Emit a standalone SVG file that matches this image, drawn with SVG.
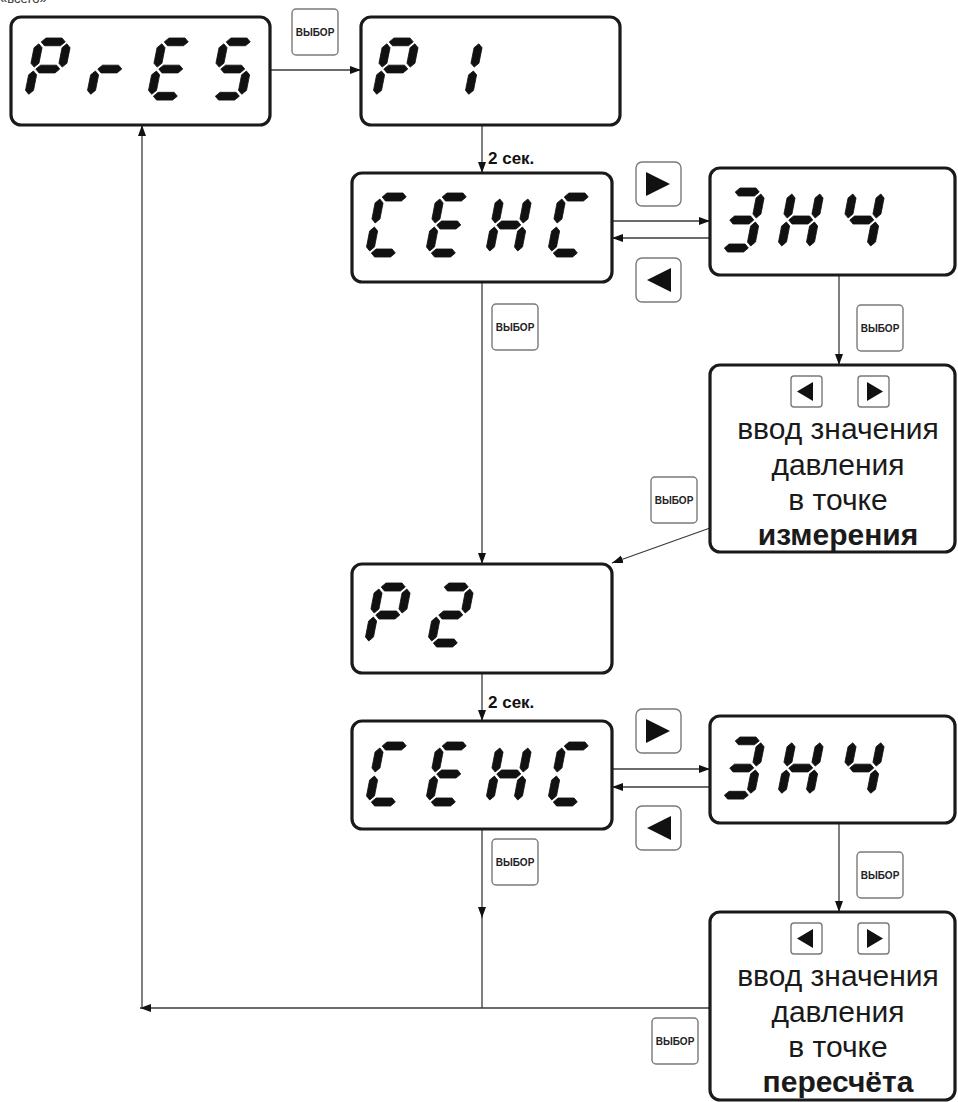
<svg xmlns="http://www.w3.org/2000/svg" xmlns:xlink="http://www.w3.org/1999/xlink" width="958" height="1102" viewBox="0 0 958 1102">
<style>
.disp{fill:#fff;stroke:#1a1a1a;stroke-width:3.2}
.btn{fill:#fff;stroke:#7a7a7a;stroke-width:1.4}
.btxt{font-family:"Liberation Sans",Arial,sans-serif;font-weight:bold;font-size:10px;fill:#222;text-anchor:middle}
.tri{fill:#111}
.seg{fill:#111;stroke:#111;stroke-width:0.8;stroke-linejoin:round}
.con{fill:none;stroke:#3a3a3a;stroke-width:1.3}
.lbl{font-family:"Liberation Sans",Arial,sans-serif;font-weight:bold;font-size:17px;fill:#111}
.big{font-family:"Liberation Sans",Arial,sans-serif;font-size:30px;fill:#1a1a1a;text-anchor:middle}
.bigb{font-family:"Liberation Sans",Arial,sans-serif;font-size:30px;font-weight:bold;fill:#1a1a1a;text-anchor:middle}
</style>
<defs>
<polygon id="sa" class="seg" points="6,4 10,0 26,0 30,4 26,8 10,8"/>
<polygon id="sg" class="seg" points="6,32 10,28 26,28 30,32 26,36 10,36"/>
<polygon id="sd" class="seg" points="6,60 10,56 26,56 30,60 26,64 10,64"/>
<polygon id="sf" class="seg" points="4,6 8,10 8,26 4,30 0,26 0,10"/>
<polygon id="se" class="seg" points="4,34 8,38 8,54 4,58 0,54 0,38"/>
<polygon id="sb" class="seg" points="32,6 36,10 36,26 32,30 28,26 28,10"/>
<polygon id="sc" class="seg" points="32,34 36,38 36,54 32,58 28,54 28,38"/>
<marker id="ah" markerWidth="12" markerHeight="10" refX="11" refY="5" orient="auto" markerUnits="userSpaceOnUse">
<path d="M0,1 L11,5 L0,9 Z" fill="#111"/>
</marker>
<g id="selbtn">
<rect class="btn" x="0" y="0" width="46" height="46" rx="4"/>
<text class="btxt" x="23" y="27">ВЫБОР</text>
</g>
<g id="rbtn">
<rect class="btn" x="0" y="0" width="45" height="44" rx="6"/>
<polygon class="tri" points="10,10 34,22 10,34"/>
</g>
<g id="lbtn">
<rect class="btn" x="0" y="0" width="45" height="44" rx="6"/>
<polygon class="tri" points="35,10 11,22 35,34"/>
</g>
<g id="srbtn">
<rect class="btn" x="0" y="0" width="31" height="31" rx="3"/>
<polygon class="tri" points="9,6 25,15.5 9,25"/>
</g>
<g id="slbtn">
<rect class="btn" x="0" y="0" width="31" height="31" rx="3"/>
<polygon class="tri" points="22,6 6,15.5 22,25"/>
</g>
</defs>
<rect x="0" y="0" width="958" height="1102" fill="#fff"/>
<text x="0" y="3" font-family="Liberation Sans, Arial, sans-serif" font-size="13" fill="#333">«всего»</text>

<g id="connectors">
<line class="con" x1="270" y1="70" x2="361" y2="70" marker-end="url(#ah)"/>
<line class="con" x1="482" y1="125" x2="482" y2="173" marker-end="url(#ah)"/>
<line class="con" x1="612" y1="221" x2="710" y2="221" marker-end="url(#ah)"/>
<line class="con" x1="710" y1="238" x2="612" y2="238" marker-end="url(#ah)"/>
<line class="con" x1="839" y1="275" x2="839" y2="365" marker-end="url(#ah)"/>
<line class="con" x1="710" y1="528" x2="612" y2="563" marker-end="url(#ah)"/>
<line class="con" x1="482" y1="282" x2="482" y2="564" marker-end="url(#ah)"/>
<line class="con" x1="482" y1="673" x2="482" y2="721" marker-end="url(#ah)"/>
<line class="con" x1="612" y1="769" x2="710" y2="769" marker-end="url(#ah)"/>
<line class="con" x1="710" y1="787" x2="612" y2="787" marker-end="url(#ah)"/>
<line class="con" x1="839" y1="823" x2="839" y2="912" marker-end="url(#ah)"/>
<line class="con" x1="482" y1="829" x2="482" y2="918" marker-end="url(#ah)"/>
<line class="con" x1="482" y1="916" x2="482" y2="1008"/>
<line class="con" x1="710" y1="1008" x2="140" y2="1008" marker-end="url(#ah)"/>
<line class="con" x1="142" y1="1008" x2="142" y2="125" marker-end="url(#ah)"/>
</g>

<g id="labels">
<text class="lbl" x="488" y="164">2 сек.</text>
<text class="lbl" x="488" y="708">2 сек.</text>
<use xlink:href="#selbtn" x="292" y="9"/>
<use xlink:href="#rbtn" x="636" y="162"/>
<use xlink:href="#lbtn" x="636" y="258"/>
<use xlink:href="#selbtn" x="492" y="304"/>
<use xlink:href="#selbtn" x="857" y="305"/>
<use xlink:href="#selbtn" x="651" y="477"/>
<use xlink:href="#rbtn" x="636" y="709"/>
<use xlink:href="#lbtn" x="636" y="806"/>
<use xlink:href="#selbtn" x="492" y="839"/>
<use xlink:href="#selbtn" x="857" y="852"/>
<use xlink:href="#selbtn" x="652" y="1018"/>
</g>

<g id="node-pres">
<rect class="disp" x="11" y="17" width="259" height="108" rx="10"/>
<g transform="translate(36,38) scale(1,0.97) skewX(-11)"><use xlink:href="#sa"/><use xlink:href="#sb"/><use xlink:href="#sf"/><use xlink:href="#se"/><use xlink:href="#sg"/></g>
<g transform="translate(98,38) scale(1,0.97) skewX(-11)"><use xlink:href="#se"/><use xlink:href="#sg"/></g>
<g transform="translate(159,38) scale(1,0.97) skewX(-11)"><use xlink:href="#sa"/><use xlink:href="#sf"/><use xlink:href="#sg"/><use xlink:href="#se"/><use xlink:href="#sd"/></g>
<g transform="translate(221,38) scale(1,0.97) skewX(-11)"><use xlink:href="#sa"/><use xlink:href="#sf"/><use xlink:href="#sg"/><use xlink:href="#sc"/><use xlink:href="#sd"/></g>
</g>

<g id="node-p1">
<rect class="disp" x="361" y="17" width="259" height="108" rx="10"/>
<g transform="translate(384,38) scale(1,0.97) skewX(-11)"><use xlink:href="#sa"/><use xlink:href="#sb"/><use xlink:href="#sf"/><use xlink:href="#se"/><use xlink:href="#sg"/></g>
<g transform="translate(448,38) scale(1,0.97) skewX(-11)"><use xlink:href="#sb"/><use xlink:href="#sc"/></g>
</g>

<g id="node-cehc1">
<rect class="disp" x="352" y="173" width="260" height="109" rx="10"/>
<g transform="translate(377,193) skewX(-11)"><use xlink:href="#sa"/><use xlink:href="#sf"/><use xlink:href="#se"/><use xlink:href="#sd"/></g>
<g transform="translate(437,193) skewX(-11)"><use xlink:href="#sa"/><use xlink:href="#sf"/><use xlink:href="#sg"/><use xlink:href="#se"/><use xlink:href="#sd"/></g>
<g transform="translate(497,193) skewX(-11)"><use xlink:href="#sb"/><use xlink:href="#sc"/><use xlink:href="#se"/><use xlink:href="#sf"/><use xlink:href="#sg"/></g>
<g transform="translate(559,193) skewX(-11)"><use xlink:href="#sa"/><use xlink:href="#sf"/><use xlink:href="#se"/><use xlink:href="#sd"/></g>
</g>

<g id="node-znch1">
<rect class="disp" x="710" y="168" width="245" height="107" rx="10"/>
<g transform="translate(730,188) skewX(-11)"><use xlink:href="#sa"/><use xlink:href="#sb"/><use xlink:href="#sg"/><use xlink:href="#sc"/><use xlink:href="#sd"/></g>
<g transform="translate(789,188) skewX(-11)"><use xlink:href="#sb"/><use xlink:href="#sc"/><use xlink:href="#se"/><use xlink:href="#sf"/><use xlink:href="#sg"/></g>
<g transform="translate(850,188) skewX(-11)"><use xlink:href="#sf"/><use xlink:href="#sg"/><use xlink:href="#sb"/><use xlink:href="#sc"/></g>
</g>

<g id="node-input1">
<rect class="disp" x="710" y="365" width="245" height="187" rx="10"/>
<use xlink:href="#slbtn" x="791" y="376"/>
<use xlink:href="#srbtn" x="858" y="376"/>
<text class="big" x="838" y="439">ввод значения</text>
<text class="big" x="838" y="475">давления</text>
<text class="big" x="838" y="510">в точке</text>
<text class="bigb" x="838" y="545">измерения</text>
</g>

<g id="node-p2">
<rect class="disp" x="352" y="564" width="260" height="109" rx="10"/>
<g transform="translate(376,583) skewX(-11)"><use xlink:href="#sa"/><use xlink:href="#sb"/><use xlink:href="#sf"/><use xlink:href="#se"/><use xlink:href="#sg"/></g>
<g transform="translate(439,583) skewX(-11)"><use xlink:href="#sa"/><use xlink:href="#sb"/><use xlink:href="#sg"/><use xlink:href="#se"/><use xlink:href="#sd"/></g>
</g>

<g id="node-cehc2">
<rect class="disp" x="352" y="721" width="260" height="108" rx="10"/>
<g transform="translate(377,742) skewX(-11)"><use xlink:href="#sa"/><use xlink:href="#sf"/><use xlink:href="#se"/><use xlink:href="#sd"/></g>
<g transform="translate(437,742) skewX(-11)"><use xlink:href="#sa"/><use xlink:href="#sf"/><use xlink:href="#sg"/><use xlink:href="#se"/><use xlink:href="#sd"/></g>
<g transform="translate(497,742) skewX(-11)"><use xlink:href="#sb"/><use xlink:href="#sc"/><use xlink:href="#se"/><use xlink:href="#sf"/><use xlink:href="#sg"/></g>
<g transform="translate(559,742) skewX(-11)"><use xlink:href="#sa"/><use xlink:href="#sf"/><use xlink:href="#se"/><use xlink:href="#sd"/></g>
</g>

<g id="node-znch2">
<rect class="disp" x="710" y="716" width="245" height="107" rx="10"/>
<g transform="translate(730,737) scale(1,0.97) skewX(-11)"><use xlink:href="#sa"/><use xlink:href="#sb"/><use xlink:href="#sg"/><use xlink:href="#sc"/><use xlink:href="#sd"/></g>
<g transform="translate(789,737) scale(1,0.97) skewX(-11)"><use xlink:href="#sb"/><use xlink:href="#sc"/><use xlink:href="#se"/><use xlink:href="#sf"/><use xlink:href="#sg"/></g>
<g transform="translate(850,737) scale(1,0.97) skewX(-11)"><use xlink:href="#sf"/><use xlink:href="#sg"/><use xlink:href="#sb"/><use xlink:href="#sc"/></g>
</g>

<g id="node-input2">
<rect class="disp" x="710" y="912" width="245" height="188" rx="10"/>
<use xlink:href="#slbtn" x="791" y="923"/>
<use xlink:href="#srbtn" x="858" y="923"/>
<text class="big" x="838" y="986">ввод значения</text>
<text class="big" x="838" y="1022">давления</text>
<text class="big" x="838" y="1057">в точке</text>
<text class="bigb" x="838" y="1092">пересчёта</text>
</g>
</svg>
